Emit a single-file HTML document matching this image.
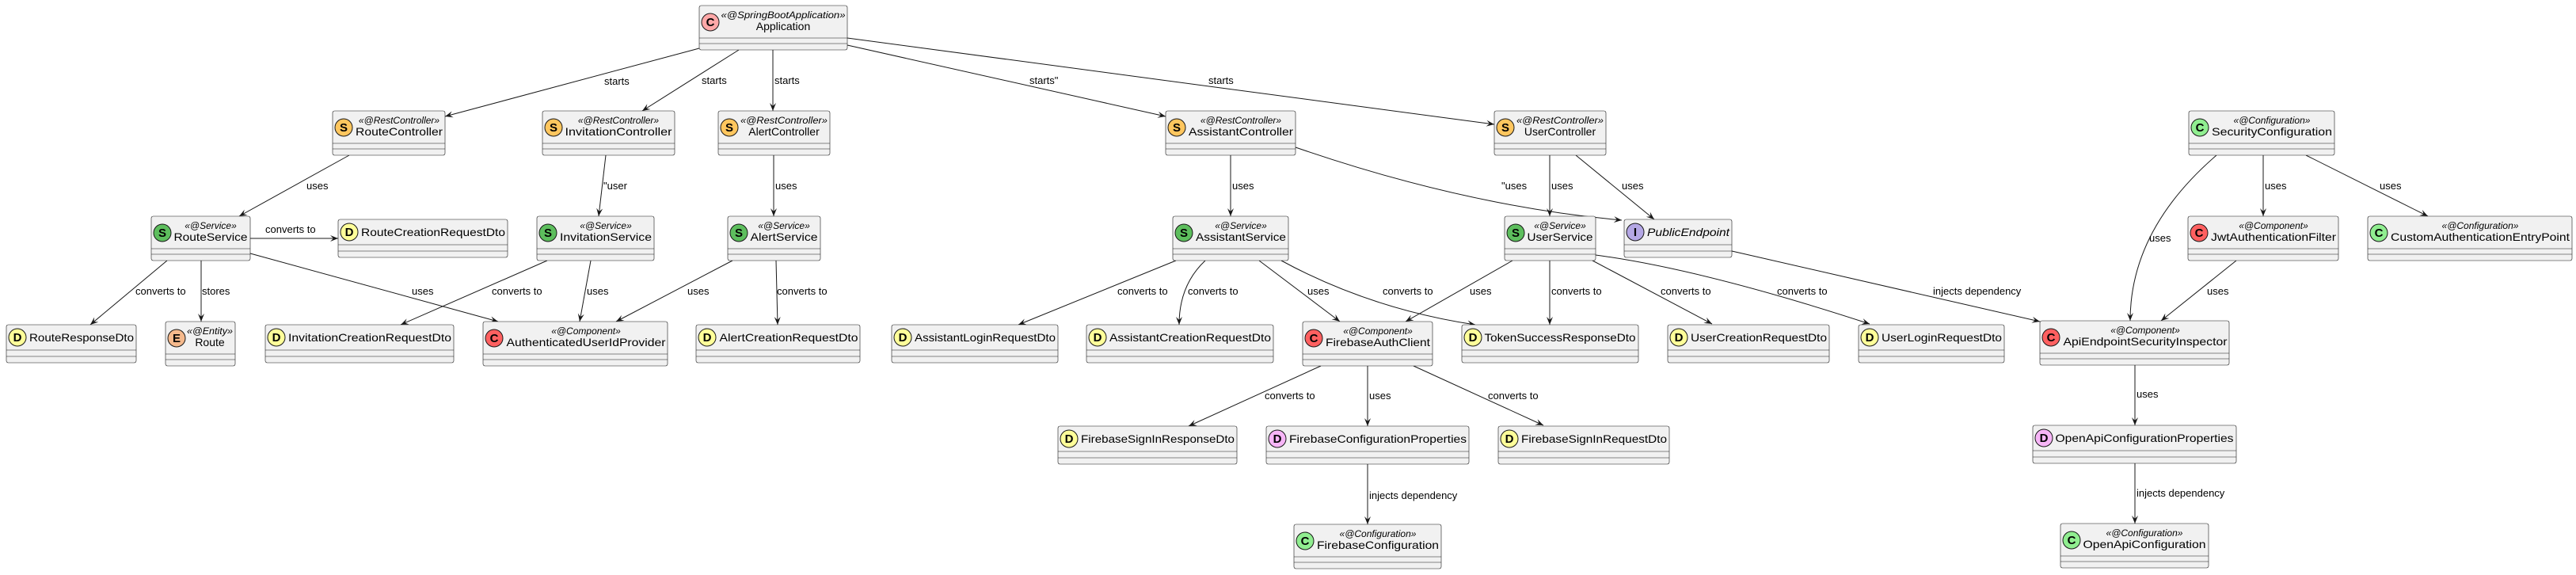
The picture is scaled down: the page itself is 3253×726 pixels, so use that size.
<!DOCTYPE html>
<html><head><meta charset="utf-8"><style>
html,body{margin:0;padding:0;background:#fff;}
svg{display:block;}
.b{fill:#F1F1F1;stroke:#181818;stroke-width:0.6;}
.s{stroke:#181818;stroke-width:0.6;}
.n{font-family:"Liberation Sans",sans-serif;font-size:14px;fill:#000;text-anchor:middle;}
.st{font-family:"Liberation Sans",sans-serif;font-size:12px;font-style:italic;fill:#000;text-anchor:middle;}
.ic{font-family:"Liberation Sans",sans-serif;font-size:15px;font-weight:bold;fill:#000;text-anchor:middle;}
.e{fill:none;stroke:#181818;stroke-width:1;marker-end:url(#a);}
.l{font-family:"Liberation Sans",sans-serif;font-size:13px;fill:#000;}
.ci{stroke:#181818;stroke-width:1;}
</style></head><body>
<svg width="3253" height="726" viewBox="0 0 3253 726" xmlns="http://www.w3.org/2000/svg">
<defs><marker id="a" markerWidth="12" markerHeight="10" refX="10" refY="4" orient="auto" markerUnits="userSpaceOnUse"><path d="M0,0 L10,4 L0,8 L4,4 Z" fill="#181818"/></marker></defs>

<!-- edges -->
<path class="e" d="M883,61 L562,147"/><text class="l" x="763" y="107">starts</text>
<path class="e" d="M933,63 L811,140"/><text class="l" x="886" y="106">starts</text>
<path class="e" d="M976,63 L976,140"/><text class="l" x="978" y="106">starts</text>
<path class="e" d="M1070,57 L1472,147"/><text class="l" x="1300" y="106">starts"</text>
<path class="e" d="M1070,48 L1887,157"/><text class="l" x="1526" y="106">starts</text>
<path class="e" d="M441,196 L302,273"/><text class="l" x="387" y="239">uses</text>
<path class="e" d="M765,196 L756,273"/><text class="l" x="762" y="239">"user</text>
<path class="e" d="M977,196 L977,273"/><text class="l" x="979" y="239">uses</text>
<path class="e" d="M1554,196 L1554,273"/><text class="l" x="1556" y="239">uses</text>
<path class="e" d="M1636,186 Q1850,260 2048,278"/><text class="l" x="1896" y="239">"uses</text>
<path class="e" d="M1957,196 L1957,273"/><text class="l" x="1959" y="239">uses</text>
<path class="e" d="M1990,196 L2089,277"/><text class="l" x="2048" y="239">uses</text>
<path class="e" d="M2799,196 Q2690,290 2690,405"/><text class="l" x="2714" y="305">uses</text>
<path class="e" d="M2858,196 L2858,273"/><text class="l" x="2860" y="239">uses</text>
<path class="e" d="M2912,196 L3066,273"/><text class="l" x="3005" y="239">uses</text>
<path class="e" d="M316,301 L427,301"/><text class="l" x="335" y="294">converts to</text>
<path class="e" d="M211,329 L114,410"/><text class="l" x="171" y="372">converts to</text>
<path class="e" d="M254,329 L254,406"/><text class="l" x="255" y="372">stores</text>
<path class="e" d="M316,320 L629,406"/><text class="l" x="520" y="372">uses</text>
<path class="e" d="M691,329 L506,410"/><text class="l" x="621" y="372">converts to</text>
<path class="e" d="M746,329 L732,406"/><text class="l" x="741" y="372">uses</text>
<path class="e" d="M925,329 L778,406"/><text class="l" x="868" y="372">uses</text>
<path class="e" d="M980,329 L982,410"/><text class="l" x="981" y="372">converts to</text>
<path class="e" d="M1485,329 L1286,410"/><text class="l" x="1411" y="372">converts to</text>
<path class="e" d="M1522,329 Q1489,360 1489,410"/><text class="l" x="1500" y="372">converts to</text>
<path class="e" d="M1590,329 L1692,406"/><text class="l" x="1651" y="372">uses</text>
<path class="e" d="M1618,329 Q1730,390 1863,410"/><text class="l" x="1746" y="372">converts to</text>
<path class="e" d="M1910,329 L1775,406"/><text class="l" x="1856" y="372">uses</text>
<path class="e" d="M1957,329 L1957,410"/><text class="l" x="1959" y="372">converts to</text>
<path class="e" d="M2011,329 L2162,409"/><text class="l" x="2097" y="372">converts to</text>
<path class="e" d="M2015,322 Q2150,340 2361,409"/><text class="l" x="2244" y="372">converts to</text>
<path class="e" d="M2187,317 L2576,406"/><text class="l" x="2441" y="372">injects dependency</text>
<path class="e" d="M2824,329 L2729,405"/><text class="l" x="2787" y="372">uses</text>
<path class="e" d="M1668,462 L1501,538"/><text class="l" x="1597" y="504">converts to</text>
<path class="e" d="M1727,462 L1727,538"/><text class="l" x="1729" y="504">uses</text>
<path class="e" d="M1785,462 L1949,537"/><text class="l" x="1879" y="504">converts to</text>
<path class="e" d="M1727,586 L1727,662"/><text class="l" x="1729" y="630">injects dependency</text>
<path class="e" d="M2696,461 L2696,537"/><text class="l" x="2698" y="502">uses</text>
<path class="e" d="M2696,585 L2696,661"/><text class="l" x="2698" y="627">injects dependency</text>

<!-- nodes with stereotype (h=56) -->
<g>
<rect class="b" x="883" y="7" width="187" height="56" rx="2.5"/><line class="s" x1="883" y1="48" x2="1070" y2="48"/><line class="s" x1="883" y1="55" x2="1070" y2="55"/>
<circle class="ci" cx="897" cy="28" r="11" fill="#FFA8A8"/><text class="ic" x="897" y="33">C</text>
<text class="st" x="989" y="23" textLength="157" lengthAdjust="spacingAndGlyphs">«@SpringBootApplication»</text><text class="n" x="989" y="38">Application</text>
</g>

<g>
<rect class="b" x="420" y="140" width="142" height="56" rx="2.5"/><line class="s" x1="420" y1="181" x2="562" y2="181"/><line class="s" x1="420" y1="188" x2="562" y2="188"/>
<circle class="ci" cx="434" cy="161" r="11" fill="#FFC65E"/><text class="ic" x="434" y="166">S</text>
<text class="st" x="504" y="156">«@RestController»</text><text class="n" x="504" y="171" textLength="110" lengthAdjust="spacingAndGlyphs">RouteController</text>
</g>
<g>
<rect class="b" x="685" y="140" width="167" height="56" rx="2.5"/><line class="s" x1="685" y1="181" x2="852" y2="181"/><line class="s" x1="685" y1="188" x2="852" y2="188"/>
<circle class="ci" cx="699" cy="161" r="11" fill="#FFC65E"/><text class="ic" x="699" y="166">S</text>
<text class="st" x="781" y="156">«@RestController»</text><text class="n" x="781" y="171" textLength="135" lengthAdjust="spacingAndGlyphs">InvitationController</text>
</g>
<g>
<rect class="b" x="907" y="140" width="141" height="56" rx="2.5"/><line class="s" x1="907" y1="181" x2="1048" y2="181"/><line class="s" x1="907" y1="188" x2="1048" y2="188"/>
<circle class="ci" cx="921" cy="161" r="11" fill="#FFC65E"/><text class="ic" x="921" y="166">S</text>
<text class="st" x="990" y="156" textLength="110" lengthAdjust="spacingAndGlyphs">«@RestController»</text><text class="n" x="990" y="171">AlertController</text>
</g>
<g>
<rect class="b" x="1472" y="140" width="164" height="56" rx="2.5"/><line class="s" x1="1472" y1="181" x2="1636" y2="181"/><line class="s" x1="1472" y1="188" x2="1636" y2="188"/>
<circle class="ci" cx="1486" cy="161" r="11" fill="#FFC65E"/><text class="ic" x="1486" y="166">S</text>
<text class="st" x="1567" y="156">«@RestController»</text><text class="n" x="1567" y="171" textLength="132" lengthAdjust="spacingAndGlyphs">AssistantController</text>
</g>
<g>
<rect class="b" x="1887" y="140" width="141" height="56" rx="2.5"/><line class="s" x1="1887" y1="181" x2="2028" y2="181"/><line class="s" x1="1887" y1="188" x2="2028" y2="188"/>
<circle class="ci" cx="1901" cy="161" r="11" fill="#FFC65E"/><text class="ic" x="1901" y="166">S</text>
<text class="st" x="1970" y="156" textLength="110" lengthAdjust="spacingAndGlyphs">«@RestController»</text><text class="n" x="1970" y="171">UserController</text>
</g>
<g>
<rect class="b" x="2764" y="140" width="184" height="56" rx="2.5"/><line class="s" x1="2764" y1="181" x2="2948" y2="181"/><line class="s" x1="2764" y1="188" x2="2948" y2="188"/>
<circle class="ci" cx="2778" cy="161" r="11" fill="#90EE90"/><text class="ic" x="2778" y="166">C</text>
<text class="st" x="2869" y="156">«@Configuration»</text><text class="n" x="2869" y="171" textLength="152" lengthAdjust="spacingAndGlyphs">SecurityConfiguration</text>
</g>

<g>
<rect class="b" x="191" y="273" width="125" height="56" rx="2.5"/><line class="s" x1="191" y1="314" x2="316" y2="314"/><line class="s" x1="191" y1="321" x2="316" y2="321"/>
<circle class="ci" cx="205" cy="294" r="11" fill="#5DBE5D"/><text class="ic" x="205" y="299">S</text>
<text class="st" x="266" y="289">«@Service»</text><text class="n" x="266" y="304" textLength="93" lengthAdjust="spacingAndGlyphs">RouteService</text>
</g>
<g>
<rect class="b" x="678" y="273" width="148" height="56" rx="2.5"/><line class="s" x1="678" y1="314" x2="826" y2="314"/><line class="s" x1="678" y1="321" x2="826" y2="321"/>
<circle class="ci" cx="692" cy="294" r="11" fill="#5DBE5D"/><text class="ic" x="692" y="299">S</text>
<text class="st" x="765" y="289">«@Service»</text><text class="n" x="765" y="304" textLength="116" lengthAdjust="spacingAndGlyphs">InvitationService</text>
</g>
<g>
<rect class="b" x="919" y="273" width="117" height="56" rx="2.5"/><line class="s" x1="919" y1="314" x2="1036" y2="314"/><line class="s" x1="919" y1="321" x2="1036" y2="321"/>
<circle class="ci" cx="933" cy="294" r="11" fill="#5DBE5D"/><text class="ic" x="933" y="299">S</text>
<text class="st" x="990" y="289">«@Service»</text><text class="n" x="990" y="304" textLength="85" lengthAdjust="spacingAndGlyphs">AlertService</text>
</g>
<g>
<rect class="b" x="1481" y="273" width="146" height="56" rx="2.5"/><line class="s" x1="1481" y1="314" x2="1627" y2="314"/><line class="s" x1="1481" y1="321" x2="1627" y2="321"/>
<circle class="ci" cx="1495" cy="294" r="11" fill="#5DBE5D"/><text class="ic" x="1495" y="299">S</text>
<text class="st" x="1567" y="289">«@Service»</text><text class="n" x="1567" y="304" textLength="114" lengthAdjust="spacingAndGlyphs">AssistantService</text>
</g>
<g>
<rect class="b" x="1900" y="273" width="115" height="56" rx="2.5"/><line class="s" x1="1900" y1="314" x2="2015" y2="314"/><line class="s" x1="1900" y1="321" x2="2015" y2="321"/>
<circle class="ci" cx="1914" cy="294" r="11" fill="#5DBE5D"/><text class="ic" x="1914" y="299">S</text>
<text class="st" x="1970" y="289">«@Service»</text><text class="n" x="1970" y="304" textLength="83" lengthAdjust="spacingAndGlyphs">UserService</text>
</g>
<g>
<rect class="b" x="2763" y="273" width="190" height="56" rx="2.5"/><line class="s" x1="2763" y1="314" x2="2953" y2="314"/><line class="s" x1="2763" y1="321" x2="2953" y2="321"/>
<circle class="ci" cx="2777" cy="294" r="11" fill="#FF6060"/><text class="ic" x="2777" y="299">C</text>
<text class="st" x="2871" y="289">«@Component»</text><text class="n" x="2871" y="304" textLength="158" lengthAdjust="spacingAndGlyphs">JwtAuthenticationFilter</text>
</g>
<g>
<rect class="b" x="2990" y="273" width="258" height="56" rx="2.5"/><line class="s" x1="2990" y1="314" x2="3248" y2="314"/><line class="s" x1="2990" y1="321" x2="3248" y2="321"/>
<circle class="ci" cx="3004" cy="294" r="11" fill="#90EE90"/><text class="ic" x="3004" y="299">C</text>
<text class="st" x="3132" y="289">«@Configuration»</text><text class="n" x="3132" y="304" textLength="226" lengthAdjust="spacingAndGlyphs">CustomAuthenticationEntryPoint</text>
</g>

<g>
<rect class="b" x="209" y="406" width="88" height="56" rx="2.5"/><line class="s" x1="209" y1="447" x2="297" y2="447"/><line class="s" x1="209" y1="454" x2="297" y2="454"/>
<circle class="ci" cx="223" cy="427" r="11" fill="#F5B98C"/><text class="ic" x="223" y="432">E</text>
<text class="st" x="265" y="422" textLength="58" lengthAdjust="spacingAndGlyphs">«@Entity»</text><text class="n" x="265" y="437">Route</text>
</g>
<g>
<rect class="b" x="610" y="406" width="233" height="56" rx="2.5"/><line class="s" x1="610" y1="447" x2="843" y2="447"/><line class="s" x1="610" y1="454" x2="843" y2="454"/>
<circle class="ci" cx="624" cy="427" r="11" fill="#FF6060"/><text class="ic" x="624" y="432">C</text>
<text class="st" x="740" y="422">«@Component»</text><text class="n" x="740" y="437" textLength="201" lengthAdjust="spacingAndGlyphs">AuthenticatedUserIdProvider</text>
</g>
<g>
<rect class="b" x="1645" y="406" width="164" height="56" rx="2.5"/><line class="s" x1="1645" y1="447" x2="1809" y2="447"/><line class="s" x1="1645" y1="454" x2="1809" y2="454"/>
<circle class="ci" cx="1659" cy="427" r="11" fill="#FF6060"/><text class="ic" x="1659" y="432">C</text>
<text class="st" x="1740" y="422">«@Component»</text><text class="n" x="1740" y="437" textLength="132" lengthAdjust="spacingAndGlyphs">FirebaseAuthClient</text>
</g>
<g>
<rect class="b" x="2576" y="405" width="239" height="56" rx="2.5"/><line class="s" x1="2576" y1="446" x2="2815" y2="446"/><line class="s" x1="2576" y1="453" x2="2815" y2="453"/>
<circle class="ci" cx="2590" cy="426" r="11" fill="#FF6060"/><text class="ic" x="2590" y="431">C</text>
<text class="st" x="2709" y="421">«@Component»</text><text class="n" x="2709" y="436" textLength="207" lengthAdjust="spacingAndGlyphs">ApiEndpointSecurityInspector</text>
</g>
<g>
<rect class="b" x="1634" y="662" width="186" height="56" rx="2.5"/><line class="s" x1="1634" y1="703" x2="1820" y2="703"/><line class="s" x1="1634" y1="710" x2="1820" y2="710"/>
<circle class="ci" cx="1648" cy="683" r="11" fill="#90EE90"/><text class="ic" x="1648" y="688">C</text>
<text class="st" x="1740" y="678">«@Configuration»</text><text class="n" x="1740" y="693" textLength="154" lengthAdjust="spacingAndGlyphs">FirebaseConfiguration</text>
</g>
<g>
<rect class="b" x="2602" y="661" width="187" height="56" rx="2.5"/><line class="s" x1="2602" y1="702" x2="2789" y2="702"/><line class="s" x1="2602" y1="709" x2="2789" y2="709"/>
<circle class="ci" cx="2616" cy="682" r="11" fill="#90EE90"/><text class="ic" x="2616" y="687">C</text>
<text class="st" x="2708" y="677">«@Configuration»</text><text class="n" x="2708" y="692" textLength="155" lengthAdjust="spacingAndGlyphs">OpenApiConfiguration</text>
</g>

<!-- nodes without stereotype (h=48) -->
<g>
<rect class="b" x="427" y="277" width="214" height="48" rx="2.5"/><line class="s" x1="427" y1="309" x2="641" y2="309"/><line class="s" x1="427" y1="317" x2="641" y2="317"/>
<circle class="ci" cx="441" cy="293" r="11" fill="#FFFF99"/><text class="ic" x="441" y="298">D</text>
<text class="n" x="547" y="298" textLength="182" lengthAdjust="spacingAndGlyphs">RouteCreationRequestDto</text>
</g>
<g>
<rect class="b" x="2051" y="277" width="136" height="48" rx="2.5"/><line class="s" x1="2051" y1="309" x2="2187" y2="309"/><line class="s" x1="2051" y1="317" x2="2187" y2="317"/>
<circle class="ci" cx="2065" cy="293" r="11" fill="#B4A7E5"/><text class="ic" x="2065" y="298">I</text>
<text class="n" x="2132" y="298" font-style="italic" textLength="104" lengthAdjust="spacingAndGlyphs">PublicEndpoint</text>
</g>
<g>
<rect class="b" x="8" y="410" width="164" height="48" rx="2.5"/><line class="s" x1="8" y1="442" x2="172" y2="442"/><line class="s" x1="8" y1="450" x2="172" y2="450"/>
<circle class="ci" cx="22" cy="426" r="11" fill="#FFFF99"/><text class="ic" x="22" y="431">D</text>
<text class="n" x="103" y="431" textLength="132" lengthAdjust="spacingAndGlyphs">RouteResponseDto</text>
</g>
<g>
<rect class="b" x="335" y="410" width="238" height="48" rx="2.5"/><line class="s" x1="335" y1="442" x2="573" y2="442"/><line class="s" x1="335" y1="450" x2="573" y2="450"/>
<circle class="ci" cx="349" cy="426" r="11" fill="#FFFF99"/><text class="ic" x="349" y="431">D</text>
<text class="n" x="467" y="431" textLength="206" lengthAdjust="spacingAndGlyphs">InvitationCreationRequestDto</text>
</g>
<g>
<rect class="b" x="879" y="410" width="207" height="48" rx="2.5"/><line class="s" x1="879" y1="442" x2="1086" y2="442"/><line class="s" x1="879" y1="450" x2="1086" y2="450"/>
<circle class="ci" cx="893" cy="426" r="11" fill="#FFFF99"/><text class="ic" x="893" y="431">D</text>
<text class="n" x="996" y="431" textLength="175" lengthAdjust="spacingAndGlyphs">AlertCreationRequestDto</text>
</g>
<g>
<rect class="b" x="1126" y="410" width="210" height="48" rx="2.5"/><line class="s" x1="1126" y1="442" x2="1336" y2="442"/><line class="s" x1="1126" y1="450" x2="1336" y2="450"/>
<circle class="ci" cx="1140" cy="426" r="11" fill="#FFFF99"/><text class="ic" x="1140" y="431">D</text>
<text class="n" x="1244" y="431" textLength="178" lengthAdjust="spacingAndGlyphs">AssistantLoginRequestDto</text>
</g>
<g>
<rect class="b" x="1372" y="410" width="236" height="48" rx="2.5"/><line class="s" x1="1372" y1="442" x2="1608" y2="442"/><line class="s" x1="1372" y1="450" x2="1608" y2="450"/>
<circle class="ci" cx="1386" cy="426" r="11" fill="#FFFF99"/><text class="ic" x="1386" y="431">D</text>
<text class="n" x="1503" y="431" textLength="204" lengthAdjust="spacingAndGlyphs">AssistantCreationRequestDto</text>
</g>
<g>
<rect class="b" x="1846" y="410" width="223" height="48" rx="2.5"/><line class="s" x1="1846" y1="442" x2="2069" y2="442"/><line class="s" x1="1846" y1="450" x2="2069" y2="450"/>
<circle class="ci" cx="1860" cy="426" r="11" fill="#FFFF99"/><text class="ic" x="1860" y="431">D</text>
<text class="n" x="1970" y="431" textLength="191" lengthAdjust="spacingAndGlyphs">TokenSuccessResponseDto</text>
</g>
<g>
<rect class="b" x="2106" y="410" width="204" height="48" rx="2.5"/><line class="s" x1="2106" y1="442" x2="2310" y2="442"/><line class="s" x1="2106" y1="450" x2="2310" y2="450"/>
<circle class="ci" cx="2120" cy="426" r="11" fill="#FFFF99"/><text class="ic" x="2120" y="431">D</text>
<text class="n" x="2221" y="431" textLength="172" lengthAdjust="spacingAndGlyphs">UserCreationRequestDto</text>
</g>
<g>
<rect class="b" x="2347" y="410" width="184" height="48" rx="2.5"/><line class="s" x1="2347" y1="442" x2="2531" y2="442"/><line class="s" x1="2347" y1="450" x2="2531" y2="450"/>
<circle class="ci" cx="2361" cy="426" r="11" fill="#FFFF99"/><text class="ic" x="2361" y="431">D</text>
<text class="n" x="2452" y="431" textLength="152" lengthAdjust="spacingAndGlyphs">UserLoginRequestDto</text>
</g>
<g>
<rect class="b" x="1336" y="538" width="226" height="48" rx="2.5"/><line class="s" x1="1336" y1="570" x2="1562" y2="570"/><line class="s" x1="1336" y1="578" x2="1562" y2="578"/>
<circle class="ci" cx="1350" cy="554" r="11" fill="#FFFF99"/><text class="ic" x="1350" y="559">D</text>
<text class="n" x="1462" y="559" textLength="194" lengthAdjust="spacingAndGlyphs">FirebaseSignInResponseDto</text>
</g>
<g>
<rect class="b" x="1599" y="538" width="256" height="48" rx="2.5"/><line class="s" x1="1599" y1="570" x2="1855" y2="570"/><line class="s" x1="1599" y1="578" x2="1855" y2="578"/>
<circle class="ci" cx="1613" cy="554" r="11" fill="#F7B5F7"/><text class="ic" x="1613" y="559">D</text>
<text class="n" x="1740" y="559" textLength="224" lengthAdjust="spacingAndGlyphs">FirebaseConfigurationProperties</text>
</g>
<g>
<rect class="b" x="1892" y="538" width="216" height="48" rx="2.5"/><line class="s" x1="1892" y1="570" x2="2108" y2="570"/><line class="s" x1="1892" y1="578" x2="2108" y2="578"/>
<circle class="ci" cx="1906" cy="554" r="11" fill="#FFFF99"/><text class="ic" x="1906" y="559">D</text>
<text class="n" x="2013" y="559" textLength="184" lengthAdjust="spacingAndGlyphs">FirebaseSignInRequestDto</text>
</g>
<g>
<rect class="b" x="2567" y="537" width="257" height="48" rx="2.5"/><line class="s" x1="2567" y1="569" x2="2824" y2="569"/><line class="s" x1="2567" y1="577" x2="2824" y2="577"/>
<circle class="ci" cx="2581" cy="553" r="11" fill="#F7B5F7"/><text class="ic" x="2581" y="558">D</text>
<text class="n" x="2708" y="558" textLength="225" lengthAdjust="spacingAndGlyphs">OpenApiConfigurationProperties</text>
</g>
</svg>
</body></html>
